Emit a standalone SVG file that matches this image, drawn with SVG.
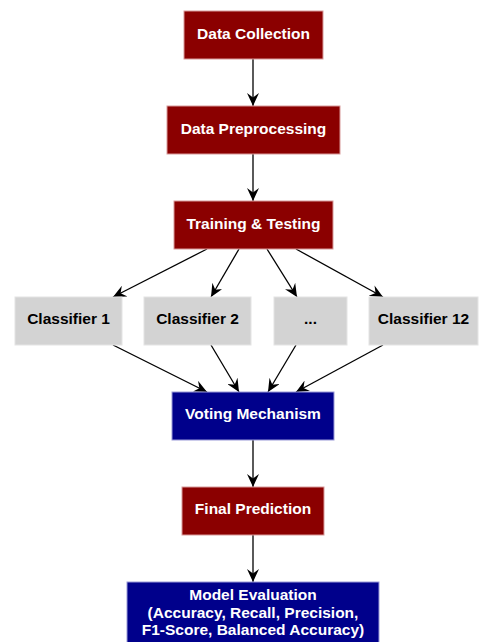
<svg xmlns="http://www.w3.org/2000/svg" width="479" height="642" viewBox="0 0 479 642">
<defs>
<marker id="vee" markerWidth="14" markerHeight="12" refX="13" refY="6" orient="auto" markerUnits="userSpaceOnUse">
<path d="M0,0 L13,6 L0,12 L4.5,6 z" fill="#000"/>
</marker>
<style>
.red{fill:#8B0000;stroke:#d89a9a;stroke-width:1}
.blue{fill:#00008B;stroke:#9a9ad8;stroke-width:1}
.gray{fill:#D3D3D3;stroke:#e4e4e4;stroke-width:1}
.tw{font-family:"Liberation Sans",Arial,sans-serif;font-weight:bold;font-size:15.5px;fill:#fff;text-anchor:middle}
.tb{font-family:"Liberation Sans",Arial,sans-serif;font-weight:bold;font-size:15.5px;fill:#000;text-anchor:middle}
.e{stroke:#000;stroke-width:1.3;fill:none;marker-end:url(#vee)}
</style>
</defs>
<rect width="479" height="642" fill="#fff"/>
<g id="edges">
<line class="e" x1="253" y1="59" x2="253" y2="106"/>
<line class="e" x1="253" y1="154" x2="253" y2="201"/>
<line class="e" x1="207" y1="249" x2="113" y2="297"/>
<line class="e" x1="239" y1="249" x2="211" y2="297"/>
<line class="e" x1="267" y1="249" x2="297" y2="297"/>
<line class="e" x1="296" y1="249" x2="383" y2="297"/>
<line class="e" x1="113" y1="345" x2="207" y2="392"/>
<line class="e" x1="211" y1="345" x2="239" y2="392"/>
<line class="e" x1="296" y1="345" x2="268" y2="392"/>
<line class="e" x1="383" y1="345" x2="296" y2="392"/>
<line class="e" x1="253" y1="440" x2="253" y2="487"/>
<line class="e" x1="253" y1="535" x2="253" y2="582"/>
</g>
<g id="data_collection"><rect class="red" x="184" y="11" width="139" height="48"/><text class="tw" x="253.5" y="38.5">Data Collection</text></g>
<g id="data_preprocessing"><rect class="red" x="167" y="106" width="173" height="48"/><text class="tw" x="253.5" y="133.5">Data Preprocessing</text></g>
<g id="training_testing"><rect class="red" x="174" y="201" width="159" height="48"/><text class="tw" x="253.5" y="228.5">Training &amp; Testing</text></g>
<g id="classifier_1"><rect class="gray" x="15" y="297" width="107" height="48"/><text class="tb" x="68.5" y="324">Classifier 1</text></g>
<g id="classifier_2"><rect class="gray" x="144" y="297" width="107" height="48"/><text class="tb" x="197.5" y="324">Classifier 2</text></g>
<g id="classifier_dots"><rect class="gray" x="274" y="297" width="73" height="48"/><text class="tb" x="310.5" y="324">...</text></g>
<g id="classifier_12"><rect class="gray" x="369" y="297" width="109" height="48"/><text class="tb" x="423.5" y="324">Classifier 12</text></g>
<g id="voting_mechanism"><rect class="blue" x="172" y="392" width="162" height="48"/><text class="tw" x="253" y="419">Voting Mechanism</text></g>
<g id="final_prediction"><rect class="red" x="182" y="487" width="142" height="48"/><text class="tw" x="253" y="514">Final Prediction</text></g>
<g id="model_evaluation"><rect class="blue" x="127" y="582" width="252" height="66"/>
<text class="tw" x="253" y="600">Model Evaluation</text>
<text class="tw" x="253" y="617.5">(Accuracy, Recall, Precision,</text>
<text class="tw" x="253" y="635">F1-Score, Balanced Accuracy)</text></g>
</svg>
